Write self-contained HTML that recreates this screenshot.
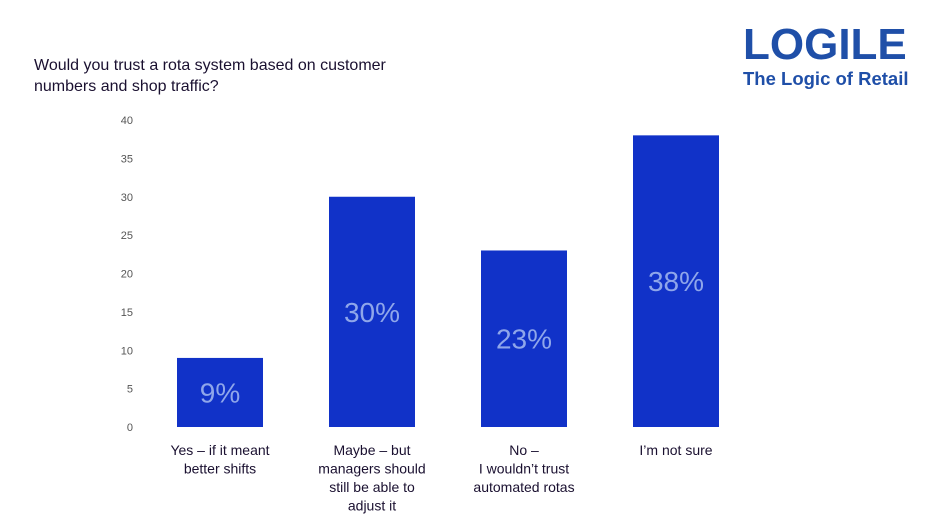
<!DOCTYPE html>
<html><head><meta charset="utf-8"><style>
body{margin:0;width:936px;height:526px;background:#fff;overflow:hidden;font-family:"Liberation Sans",sans-serif;}
.title{position:absolute;left:34px;top:55px;font-size:16px;line-height:21px;color:#1a1030;}
.logo{position:absolute;left:743px;top:23px;color:#1f4fa8;font-weight:bold;}
.logo .big{font-size:44px;letter-spacing:0px;line-height:44px;}
.logo .tag{font-size:18.5px;line-height:19px;margin-top:2px;}
svg{position:absolute;left:0;top:0;}
</style></head><body>
<div class="title">Would you trust a rota system based on customer<br>numbers and shop traffic?</div>
<div class="logo"><div class="big">LOGILE</div><div class="tag">The Logic of Retail</div></div>
<svg id="chart" width="936" height="526"></svg>
<script>
const categories=[["Yes – if it meant","better shifts"],["Maybe – but","managers should","still be able to","adjust it"],["No –","I wouldn’t trust","automated rotas"],["I’m not sure"]];
const values=[9,30,23,38];
const ticks=[0,5,10,15,20,25,30,35,40];
const ns="http://www.w3.org/2000/svg";
const svg=document.getElementById('chart');
const y=v=>427-v*(307/40);
const x=i=>220+i*152;
function el(t,a,txt){const e=document.createElementNS(ns,t);for(const k in a)e.setAttribute(k,a[k]);if(txt!==undefined)e.textContent=txt;svg.appendChild(e);return e;}
ticks.forEach(t=>{const e=el('text',{x:133,y:y(t)+4,'text-anchor':'end','font-size':11,fill:'#555','font-family':'Liberation Sans'},t);

});
values.forEach((v,i)=>{
const r=el('rect',{x:x(i)-43,y:y(v),width:86,height:y(0)-y(v),fill:'#1132c8'});


const l=el('text',{x:x(i),y:(y(v)+y(0))/2+10,'text-anchor':'middle','font-size':28,fill:'#8fa6ea','font-family':'Liberation Sans'},v+'%');


categories[i].forEach((line,j)=>{const c=el('text',{x:x(i),y:455+j*18.5,'text-anchor':'middle','font-size':14,fill:'#1a1030','font-family':'Liberation Sans'},line);

});
});
</script>
</body></html>
